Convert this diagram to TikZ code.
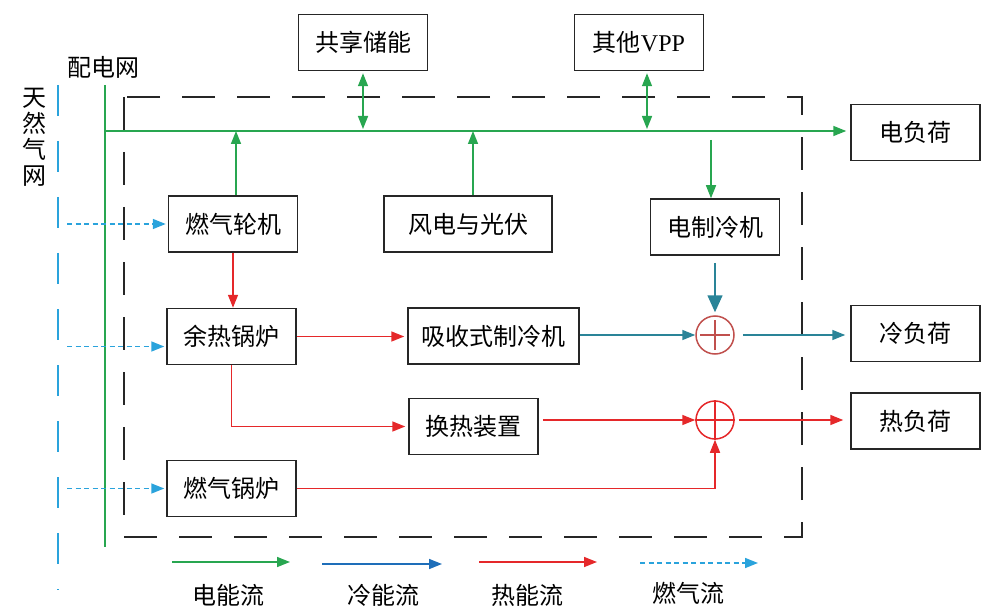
\documentclass[tikz,border=0pt]{standalone}
\usepackage{fontspec}
\setmainfont{Liberation Serif}
\newfontfamily\cjk{Noto Sans CJK SC}
\usepackage{tikz}
\usetikzlibrary{arrows.meta}
\definecolor{elecgreen}{RGB}{40,166,80}
\definecolor{heatred}{RGB}{229,40,42}
\definecolor{coolteal}{RGB}{42,132,152}
\definecolor{coolblue}{RGB}{30,110,185}
\definecolor{gasblue}{RGB}{42,163,220}
\definecolor{sumbrown}{RGB}{192,80,77}
\tikzstyle{blk}=[draw=black!85, line width=1.5pt, minimum width=129pt, minimum height=56pt, inner sep=0pt, font=\cjk\fontsize{24}{26}\selectfont]
\tikzstyle{lbl}=[inner sep=0pt, font=\cjk\fontsize{24}{26}\selectfont]
\tikzstyle{flow}=[line width=1.5pt, -{Triangle[length=13pt,width=10pt]}]
\tikzstyle{both}=[{Triangle[length=13pt,width=10pt]}-{Triangle[length=13pt,width=10pt]}]
\tikzstyle{bigtip}=[-{Triangle[length=17pt,width=15pt]}]
\tikzstyle{elec}=[flow, color=elecgreen]
\tikzstyle{heat}=[flow, color=heatred]
\tikzstyle{cool}=[flow, color=coolteal]
\tikzstyle{gasflow}=[flow, color=gasblue, dash pattern=on 5pt off 3.5pt]
\tikzstyle{sum_node}=[circle, line width=1.5pt, minimum size=38pt, inner sep=0pt]

\begin{document}
\begin{tikzpicture}[x=1pt, y=-1pt]
\useasboundingbox (0,0) rectangle (995,612);
% grids and frame
\node[lbl] (pdw) at (103,67) {配电网};
\node[lbl, align=center] (trqw) at (35,137) {天\\然\\气\\网};
\coordinate (gridT) at (105,85);
\coordinate (gridB) at (105,547);
\coordinate (gasT) at (58,85);
\coordinate (gasB) at (58,590);
\coordinate (busL) at (105,131);
\coordinate (gasX) at (67,0);
\coordinate (frameNW) at (124,97);
\coordinate (frameSE) at (802,537);
\draw[black!85, line width=1.5pt, dash pattern=on 33pt off 22pt] (frameNW) rectangle (frameSE);
\draw[gasblue, line width=1.5pt, dash pattern=on 31pt off 25pt] (gasT) -- (gasB);
\draw[elecgreen, line width=1.5pt] (gridT) -- (gridB);
% units
\node[blk] (gxcn) at (363,42.5) {共享储能};
\node[blk] (qtvpp) at (639,42.5) {其他{\rmfamily VPP}};
\node[blk] (dfh) at (915.5,132.5) {电负荷};
\node[blk] (rqlj) at (233,224) {燃气轮机};
\node[blk, minimum width=168pt] (fgpv) at (468,224) {风电与光伏};
\node[blk] (dzlj) at (715,227) {电制冷机};
\node[blk] (yrgl) at (231.5,336.5) {余热锅炉};
\node[blk, minimum width=171pt] (xszl) at (493.5,336) {吸收式制冷机};
\node[blk] (lfh) at (915.5,333.5) {冷负荷};
\node[blk] (hrzz) at (473.5,426.5) {换热装置};
\node[blk] (rfh) at (915.5,421) {热负荷};
\node[blk] (rqgl) at (231.5,488.5) {燃气锅炉};
\node[sum_node, draw=sumbrown] (sum1) at (715,335) {};
\node[sum_node, draw=heatred] (sum2) at (715,420) {};
\draw[sumbrown, line width=1.3pt] ([xshift=-15pt]sum1.center) -- ([xshift=15pt]sum1.center)
    ([yshift=-15pt]sum1.center) -- ([yshift=15pt]sum1.center);
\draw[heatred, line width=1.6pt] (sum2.west) -- (sum2.east) (sum2.south) -- (sum2.north);
% electric
\draw[elec, shorten >=4pt] (busL) -- (busL -| dfh.west);
\draw[elec, both, shorten <=2pt, shorten >=2pt] (gxcn.south) -- (gxcn.south |- busL);
\draw[elec, both, shorten <=2pt, shorten >=2pt] ([xshift=8pt]qtvpp.south) -- ([xshift=8pt]qtvpp.south |- busL);
\draw[elec] ([xshift=3pt]rqlj.north) -- ([xshift=3pt]rqlj.north |- busL);
\draw[elec] ([xshift=5pt]fgpv.north) -- ([xshift=5pt]fgpv.north |- busL);
\coordinate (dzlIn) at (711,140);
\draw[elec] (dzlIn) -- (dzlIn |- dzlj.north);
% cooling
\draw[cool, bigtip, shorten <=7pt, shorten >=3pt] (dzlj.south) -- (sum1.north);
\draw[cool] (xszl.east |- sum1.west) -- (sum1.west);
\draw[cool, shorten <=8pt, shorten >=5pt] (sum1.east) -- (sum1.east -| lfh.west);
% heat
\draw[heat] (rqlj.south) -- (rqlj.south |- yrgl.north);
\draw[heat, shorten >=3pt] (yrgl.east) -- (yrgl.east -| xszl.west);
\draw[heat, shorten >=3pt] (yrgl.south) |- (hrzz.west);
\draw[heat, shorten <=4pt] (hrzz.east |- sum2.west) -- (sum2.west);
\draw[heat, shorten <=4pt, shorten >=7pt] (sum2.east) -- (sum2.east -| rfh.west);
\draw[heat] (rqgl.east) -| (sum2.south);
% gas
\coordinate (yrglGas) at ([yshift=-10pt]yrgl.west);
\draw[gasflow, shorten >=2pt] (gasX |- rqlj.west) -- (rqlj.west);
\draw[gasflow, shorten >=2pt] (gasX |- yrglGas) -- (yrglGas);
\draw[gasflow, shorten >=2pt] (gasX |- rqgl.west) -- (rqgl.west);
% legend
\node[lbl] (lgElec) at (228,595) {电能流};
\node[lbl] (lgCool) at (383,595) {冷能流};
\node[lbl] (lgHeat) at (527,595) {热能流};
\node[lbl] (lgGas) at (688,593) {燃气流};
\coordinate (lgE1) at (172,562); \coordinate (lgE2) at (290,562);
\coordinate (lgC1) at (322,564); \coordinate (lgC2) at (442,564);
\coordinate (lgH1) at (479,562); \coordinate (lgH2) at (597,562);
\coordinate (lgG1) at (640,563); \coordinate (lgG2) at (758,563);
\draw[elec] (lgE1) -- (lgE2);
\draw[flow, color=coolblue] (lgC1) -- (lgC2);
\draw[heat] (lgH1) -- (lgH2);
\draw[gasflow] (lgG1) -- (lgG2);
\end{tikzpicture}
\end{document}
